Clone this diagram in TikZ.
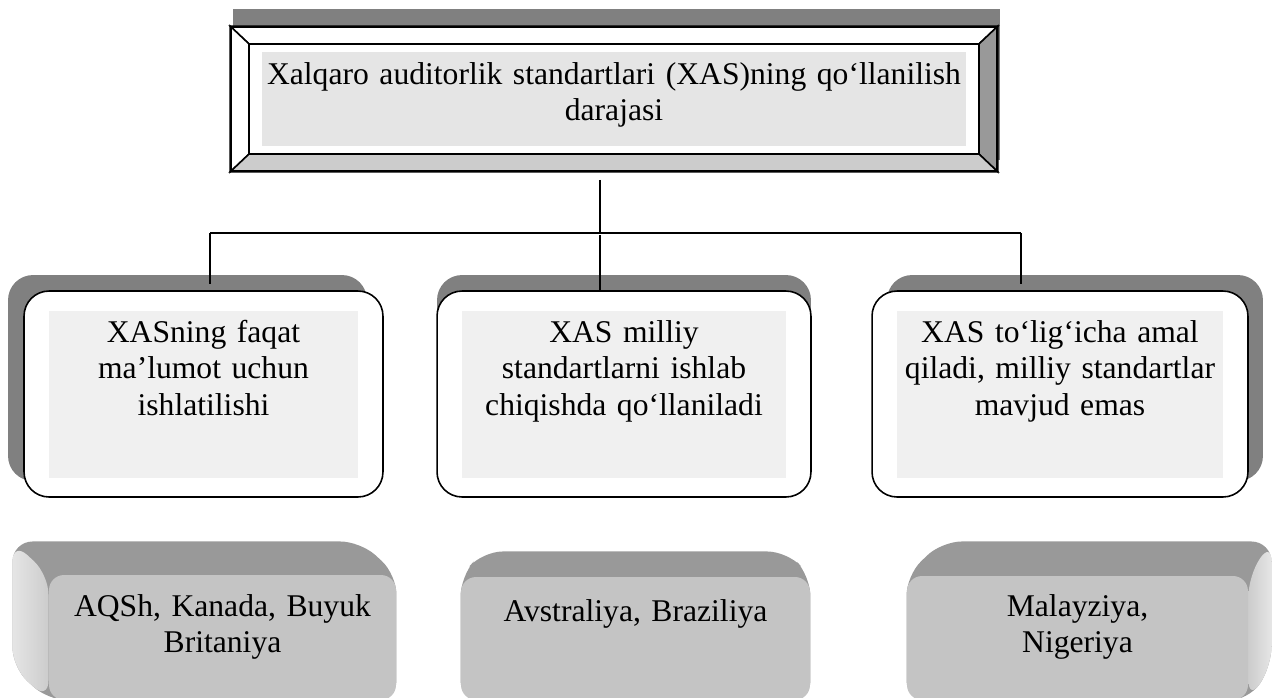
\documentclass[tikz,border=0pt]{standalone}
\usepackage{fontspec}
\setmainfont{Liberation Serif}
\usetikzlibrary{calc}
\usetikzlibrary{shadows}
\usetikzlibrary{backgrounds}

\begin{document}
\begin{tikzpicture}[x=0.02cm, y=-0.02cm, line width=0.6pt,
    every node/.style={font=\fontsize{18}{20.8}\selectfont, align=center, inner sep=0pt},
    headbox/.style={draw, line width=0.9pt, text width=15.32cm, text height=1.14cm, text depth=1.74cm},
    midbox/.style={draw, fill=white, line width=0.9pt, rounded corners=0.5cm,
      inner xsep=0.5cm, inner ysep=0.4cm, text height=0.62cm, text depth=2.7cm,
      path picture={\fill[black!6, sharp corners] ($(path picture bounding box.north west)+(25,20)$) rectangle ($(path picture bounding box.south east)+(-25,-19)$);}},
    cube/.style={fill=black!23, rounded corners=0.3cm, text depth=1.68cm}]

  \useasboundingbox (0,0) rectangle (1272,697);

  \node[headbox] (head) at (614,99) {Xalqaro auditorlik standartlari (XAS)ning qo‘llanilish\\darajasi};

  \node[midbox, text width=6.18cm, general shadow={fill=black!50, shadow xshift=-0.32cm, shadow yshift=0.32cm}] (m1) at (203.5,394) {XASning faqat\\ma’lumot uchun\\ishlatilishi};
  \node[midbox, text width=6.48cm, general shadow={fill=black!50, shadow yshift=0.32cm}] (m2) at (624,394) {XAS milliy\\standartlarni ishlab\\chiqishda qo‘llaniladi};
  \node[midbox, text width=6.52cm, general shadow={fill=black!50, shadow xshift=0.3cm, shadow yshift=0.32cm}] (m3) at (1060,394) {XAS to‘lig‘icha amal\\qiladi, milliy standartlar\\mavjud emas};

  \node[cube, text width=6.94cm, text height=0.82cm] (c1) at (222.5,637.5) {AQSh, Kanada, Buyuk\\Britaniya};
  \node[cube, text width=6.98cm, text height=0.88cm, text depth=1.58cm] (c2) at (635.5,638.5) {Avstraliya, Braziliya};
  \node[cube, text width=6.82cm, text height=0.8cm] (c3) at (1077.5,638) {Malayziya,\\Nigeriya};

  % tree lines
  \coordinate (fork) at (600,233);
  \coordinate (d1) at (210,233);
  \coordinate (d3) at (1021,233);
  \draw ($(head.south -| fork)+(0,8)$) -- (fork);
  \draw (d1) -- (d3);
  \draw (d1) -- ($(d1 |- m1.north)+(0,-6)$);
  \draw ($(fork)+(0,2)$) -- (fork |- m2.north);
  \draw (d3) -- ($(d3 |- m3.north)+(0,-6)$);

  \begin{scope}[on background layer]
    % bevelled frame of the title
    \fill[black!50] ($(head.north west)+(3,-17)$) rectangle ($(head.south east)+(2,-12)$);
    \filldraw[fill=white, line width=0.9pt] (head.north west) -- (head.north east) -- ($(head.north east)+(-19,18)$) -- ($(head.north west)+(19,18)$) -- cycle;
    \filldraw[fill=white, line width=0.9pt] (head.north west) -- ($(head.north west)+(19,18)$) -- ($(head.south west)+(19,-18)$) -- (head.south west) -- cycle;
    \filldraw[fill=black!40, line width=0.9pt] (head.north east) -- (head.south east) -- ($(head.south east)+(-19,-18)$) -- ($(head.north east)+(-19,18)$) -- cycle;
    \filldraw[fill=black!20, line width=0.9pt] (head.south west) -- ($(head.south west)+(19,-18)$) -- ($(head.south east)+(-19,-18)$) -- (head.south east) -- cycle;
    \filldraw[fill=white, line width=0.9pt] ($(head.north west)+(19,18)$) rectangle ($(head.south east)+(-19,-18)$);
    \fill[black!10] ($(head.north west)+(32,26)$) rectangle ($(head.south east)+(-32,-26)$);

    % depth of the country boxes
    \fill[black!40, rounded corners=0.4cm] ($(c1.north west)+(-36,-33)$) -- ($(c1.north east)+(-36,-33)$) -- (c1.north east) -- (c1.south east) -- (c1.south west) -- ($(c1.south west)+(-36,-33)$) -- cycle;
    \shade[left color=black!10, right color=black!20, rounded corners=0.4cm] ($(c1.north west)+(-36,-33)$) -- (c1.north west) -- (c1.south west) -- ($(c1.south west)+(-36,-33)$) -- cycle;

    \fill[black!40, rounded corners=0.4cm] ($(c2.north west)+(22,-25)$) -- ($(c2.north east)+(-23,-25)$) -- (c2.north east) -- (c2.south east) -- (c2.south west) -- (c2.north west) -- cycle;

    \fill[black!40, rounded corners=0.4cm] ($(c3.north west)+(35,-34)$) -- ($(c3.north east)+(23,-34)$) -- ($(c3.south east)+(23,-34)$) -- (c3.south east) -- (c3.south west) -- (c3.north west) -- cycle;
    \shade[left color=black!20, right color=black!10, rounded corners=0.4cm] ($(c3.north east)+(23,-34)$) -- ($(c3.south east)+(23,-34)$) -- (c3.south east) -- (c3.north east) -- cycle;
  \end{scope}
\end{tikzpicture}
\end{document}
